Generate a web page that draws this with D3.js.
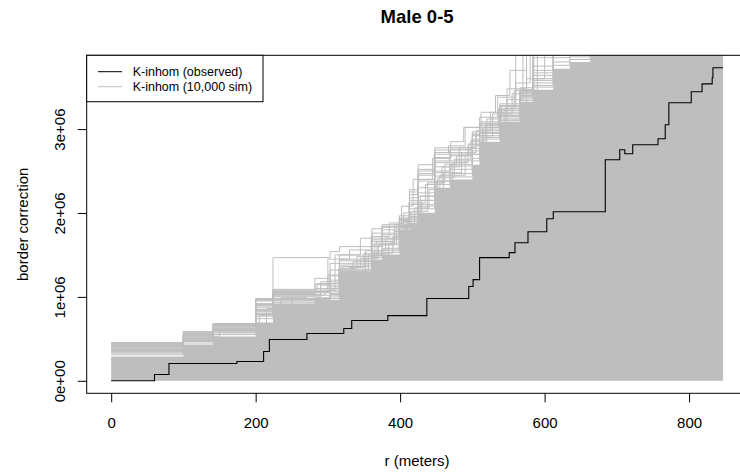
<!DOCTYPE html>
<html><head><meta charset="utf-8">
<script src="https://cdn.jsdelivr.net/npm/d3@7"></script>
<style>body{margin:0;background:#fff}svg{display:block;font-family:"Liberation Sans",Arial,sans-serif}</style>
</head><body><svg id="c" width="740" height="475"></svg>
<script>
// ---- data (K values in units of 1e6) ----
const title = "Male 0-5";
const xLabel = "r (meters)";
const yLabel = "border correction";
const legendLabels = ["K-inhom (observed)", "K-inhom (10,000 sim)"];
const xTicks = [0, 200, 400, 600, 800];
const yTicks = [0, 1, 2, 3];
const yTickLabels = ["0e+00", "1e+06", "2e+06", "3e+06"];
const rMax = 847;

const obsR = [0,60,80,174,211,219,271,322,333,383,437,495,501,510,551,559,577,603,612,684,704,711,722,757,767,772,803,818,832,833];
const obsK = [0,0.075,0.206,0.230,0.349,0.492,0.563,0.623,0.718,0.777,0.981,1.123,1.206,1.468,1.527,1.646,1.777,1.932,2.015,2.635,2.754,2.706,2.813,2.884,3.051,3.313,3.444,3.539,3.611,3.730];

// shared step grid for the bulk of the simulations
const simR = [0,100,141,200,224,282,303,316,361,375,399,413,425,448,469,500,510,538,566,584,612,635,663,707,760,815,847];
const simDense = [0.290,0.432,0.527,0.694,0.920,0.967,0.967,1.289,1.444,1.504,1.80,1.884,2.004,2.30,2.40,2.575,2.85,3.087,3.325,3.47,3.72,3.80,4.0,4.3,4.4,4.5,4.6];
const sim01 = [0.456,0.587,0.682,0.980,1.468,1.468,1.539,1.599,1.813,1.860,1.967,2.277,2.575,2.777,2.777,2.967,3.087,3.301,3.492,3.95,4.2,4.3,4.4,4.5,4.6,4.7,4.8];
const sim02 = [0.44,0.56,0.67,0.95,1.09,1.22,1.32,1.45,1.72,1.80,1.93,2.22,2.47,2.72,2.75,2.92,3.06,3.27,3.46,3.85,4.05,4.2,4.3,4.4,4.5,4.6,4.7];
const sim03 = [0.42,0.55,0.64,0.90,1.05,1.06,1.12,1.40,1.66,1.74,1.92,2.10,2.38,2.62,2.70,2.85,3.02,3.22,3.44,3.70,4.0,4.1,4.2,4.3,4.4,4.5,4.6];
const sim04 = [0.40,0.52,0.63,0.87,1.01,1.02,1.08,1.36,1.60,1.68,1.88,2.05,2.30,2.55,2.62,2.80,2.98,3.18,3.42,3.64,3.95,4.1,4.2,4.3,4.4,4.5,4.6];
const sim05 = [0.37,0.50,0.60,0.84,0.98,0.99,1.04,1.33,1.55,1.62,1.85,1.98,2.20,2.48,2.56,2.74,2.95,3.15,3.40,3.58,3.90,4.0,4.1,4.2,4.3,4.4,4.5];
const sim06 = [0.35,0.48,0.58,0.80,0.97,0.98,1.02,1.31,1.52,1.58,1.84,1.95,2.15,2.44,2.52,2.70,2.92,3.13,3.38,3.55,3.85,3.9,4.1,4.2,4.3,4.4,4.5];
const sim07 = [0.33,0.47,0.57,0.77,0.95,0.97,1.00,1.30,1.49,1.55,1.82,1.92,2.10,2.38,2.47,2.65,2.90,3.11,3.36,3.52,3.80,3.86,4.1,4.2,4.3,4.4,4.5];
const sim08 = [0.31,0.45,0.55,0.74,0.93,0.97,0.98,1.29,1.47,1.53,1.81,1.90,2.05,2.34,2.43,2.62,2.88,3.10,3.34,3.50,3.76,3.83,4.1,4.2,4.3,4.4,4.5];
const sim09 = [0.38,0.51,0.62,0.82,1.04,1.05,1.20,1.38,1.62,1.70,1.89,2.15,2.40,2.60,2.68,2.88,3.00,3.20,3.43,3.67,3.98,4.1,4.2,4.3,4.4,4.5,4.6];
const sim10 = [0.41,0.54,0.65,0.92,1.07,1.15,1.25,1.43,1.68,1.76,1.91,2.25,2.52,2.75,2.76,2.94,3.07,3.28,3.47,3.88,4.1,4.2,4.3,4.4,4.5,4.6,4.7];
const sim11 = [0.43,0.57,0.67,0.96,1.03,1.10,1.40,1.50,1.76,1.83,1.94,2.18,2.50,2.66,2.72,2.93,3.04,3.24,3.45,3.75,4.0,4.1,4.2,4.3,4.4,4.5,4.6];
const sim12 = [0.36,0.49,0.59,0.79,0.96,0.97,1.03,1.32,1.50,1.57,1.83,1.96,2.24,2.50,2.58,2.77,2.96,3.16,3.39,3.60,3.92,4.0,4.1,4.2,4.3,4.4,4.5];
const simCurves = [sim01,sim02,sim03,sim04,sim05,sim06,sim07,sim08,sim09,sim10,sim11,sim12];

// simulations with their own step positions
const simAR = [0,100,150,215,250,290,330,350,390,405,430,455,490,515,545,575,600];
const simAK = [0.39,0.53,0.61,0.86,1.03,1.18,1.35,1.52,1.72,1.90,2.15,2.45,2.70,2.95,3.25,3.60,4.0];
const simBR = [0,100,141,205,235,270,320,345,370,392,420,440,460,485,505,528,555,590];
const simBK = [0.34,0.47,0.60,0.78,0.99,1.06,1.36,1.46,1.62,1.78,2.06,2.28,2.48,2.72,2.92,3.18,3.42,3.95];
const simCR = [0,100,141,200,224,300,335,365,395,415,438,462,478,495,520,540,560,580];
const simCK = [0.41,0.55,0.66,0.89,1.06,1.26,1.42,1.64,1.84,2.02,2.36,2.58,2.68,2.82,3.12,3.28,3.55,3.95];
const simDR = [0,100,141,200,224,310,345,375,402,418,445,470,488,512,532,552,575];
const simDK = [0.44,0.58,0.68,0.97,1.08,1.50,1.70,1.84,2.08,2.40,2.65,2.85,3.02,3.20,3.40,3.70,4.0];
const simER = [0,100,141,200,224,290,320,352,380,410,428,452,475,498,518,548,570];
const simEK = [0.36,0.50,0.61,0.83,1.00,1.14,1.30,1.55,1.70,1.94,2.20,2.42,2.64,2.86,3.05,3.35,3.95];
const simFR = [0,100,141,200,224,285,315,340,368,392,412,435,458,482,505,525,548,575];
const simFK = [0.42,0.56,0.65,0.91,1.06,1.16,1.34,1.48,1.66,1.86,2.12,2.34,2.55,2.78,2.98,3.20,3.48,3.95];
const simGR = [0,100,141,200,224,300,330,360,385,405,425,447,467,490,510,535,560];
const simGK = [0.45,0.585,0.675,0.975,1.06,1.45,1.56,1.72,1.88,2.00,2.45,2.70,2.80,3.02,3.14,3.38,3.95];
const simHR = [0,100,141,200,224,296,326,356,384,408,424,450,472,494,514,536,558,585];
const simHK = [0.38,0.52,0.62,0.85,1.02,1.10,1.28,1.50,1.64,1.86,2.08,2.38,2.60,2.82,3.02,3.24,3.46,3.95];
const simOwn = [[simAR,simAK],[simBR,simBK],[simCR,simCK],[simDR,simDK],[simER,simEK],[simFR,simFK],[simGR,simGK],[simHR,simHK]];

// ---- layout ----
const svg = d3.select("#c");
const L = 86.7, R = 747.5, T = 55.3, B = 393.3;
const yTop = d3.max(obsK);
const x = d3.scaleLinear().domain([-0.04 * rMax, 1.04 * rMax]).range([L, R]);
const y = d3.scaleLinear().domain([-0.04 * yTop, 1.04 * yTop]).range([B, T]);
const simGray = "#bebebe";

svg.append("defs").append("clipPath").attr("id", "pc")
  .append("rect").attr("x", L).attr("y", T).attr("width", R - L).attr("height", B - T);
const g = svg.append("g").attr("clip-path", "url(#pc)");

const area = d3.area().curve(d3.curveStepAfter)
  .x(d => x(d[0])).y0(y(0)).y1(d => y(d[1]));
g.append("path").datum(simR.map((r, i) => [r, simDense[i]]))
  .attr("d", area).attr("fill", simGray);

const line = d3.line().curve(d3.curveStepAfter).x(d => x(d[0])).y(d => y(d[1]));
const drawSim = pts => g.append("path").datum(pts).attr("d", line)
  .attr("fill", "none").attr("stroke", simGray).attr("stroke-width", 1);
simCurves.forEach(c => drawSim(simR.map((r, i) => [r, c[i]])));
simOwn.forEach(([rs, ks]) => {
  const pts = rs.map((r, i) => [r, ks[i]]);
  pts.push([rMax, ks[ks.length - 1]]);
  drawSim(pts);
});

const obsPts = obsR.map((r, i) => [r, obsK[i]]);
obsPts.push([rMax, obsK[obsK.length - 1]]);
g.append("path").datum(obsPts).attr("d", line)
  .attr("fill", "none").attr("stroke", "#000").attr("stroke-width", 1.1);

svg.append("rect").attr("x", L).attr("y", T).attr("width", R - L).attr("height", B - T)
  .attr("fill", "none").attr("stroke", "#000").attr("stroke-width", 1);

const xa = svg.append("g").attr("transform", `translate(0,${B})`)
  .call(d3.axisBottom(x).tickValues(xTicks).tickFormat(d3.format("d")).tickSize(9).tickSizeOuter(0).tickPadding(15));
xa.select(".domain").remove();
xa.selectAll("text").attr("font-size", "15px").attr("font-family", "Liberation Sans, Arial, sans-serif").attr("fill", "#000");
xa.selectAll("line").attr("stroke", "#000");

const ya = svg.append("g").attr("transform", `translate(${L},0)`)
  .call(d3.axisLeft(y).tickValues(yTicks).tickFormat((d, i) => yTickLabels[i]).tickSize(9).tickSizeOuter(0));
ya.select(".domain").remove();
ya.selectAll("line").attr("stroke", "#000");
ya.selectAll("text").attr("x", null).attr("dy", null)
  .attr("transform", "translate(-22,0) rotate(-90)")
  .attr("text-anchor", "middle")
  .attr("font-size", "15px").attr("font-family", "Liberation Sans, Arial, sans-serif").attr("fill", "#000");

svg.append("text").attr("x", (L + R) / 2).attr("y", 23).attr("text-anchor", "middle")
  .attr("font-weight", "bold").attr("font-size", "18.5px").text(title);
svg.append("text").attr("x", 417).attr("y", 466).attr("text-anchor", "middle")
  .attr("font-size", "15px").text(xLabel);
svg.append("text").attr("transform", `translate(28,${(T + B) / 2}) rotate(-90)`)
  .attr("text-anchor", "middle").attr("font-size", "15px").text(yLabel);

const lg = svg.append("g");
lg.append("rect").attr("x", L).attr("y", T).attr("width", 176.3).attr("height", 46.4)
  .attr("fill", "#fff").attr("stroke", "#000").attr("stroke-width", 1);
const legColors = ["#000", simGray];
legendLabels.forEach((t, i) => {
  const yy = 71.7 + i * 15;
  lg.append("line").attr("x1", 98).attr("x2", 122).attr("y1", yy).attr("y2", yy)
    .attr("stroke", legColors[i]).attr("stroke-width", 1);
  lg.append("text").attr("x", 132.7).attr("y", yy + 4.4).attr("font-size", "12.5px").text(t);
});
</script></body></html>
